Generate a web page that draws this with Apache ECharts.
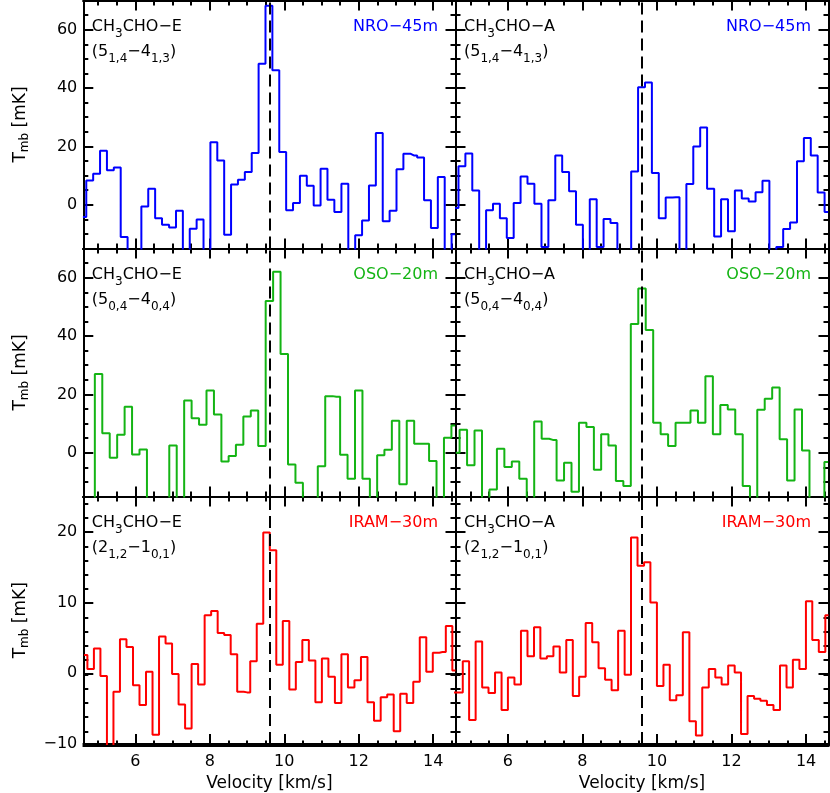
<!DOCTYPE html>
<html><head><meta charset="utf-8">
<script src="https://cdn.jsdelivr.net/npm/echarts@6/dist/echarts.min.js"></script>
<style>html,body{margin:0;padding:0;background:#fff}#c{width:830px;height:793px}</style>
</head><body><div id="c"></div>
<script>
// ---------------- data (channel centre velocities in km/s, Tmb in mK) ----------------
const velNRO = [4.59, 4.77, 4.96, 5.14, 5.33, 5.51, 5.70, 5.88, 6.07, 6.25, 6.44, 6.62, 6.81, 7.00, 7.18, 7.37, 7.55, 7.74, 7.92, 8.11, 8.29, 8.48, 8.66, 8.85, 9.03, 9.22, 9.40, 9.59, 9.77, 9.96, 10.14, 10.33, 10.51, 10.70, 10.88, 11.07, 11.25, 11.44, 11.63, 11.81, 12.00, 12.18, 12.37, 12.55, 12.74, 12.92, 13.11, 13.29, 13.48, 13.66, 13.85, 14.03, 14.22, 14.40, 14.59];
const nroE = [-4.2, 8.3, 10.6, 18.5, 11.8, 12.8, -11.1, -20, -20, -0.6, 5.5, -4.6, -6.9, -7.8, -2.1, -20, -8.2, -5.1, -20, 21.4, 15.2, -10.3, 6.9, 8.6, 11.2, 17.7, 48.3, 68.2, 46.1, 18.1, -1.9, 0.6, 9.9, 6.5, -0.3, 12.3, 1.7, -2.5, 7.2, -20, -10.5, -5.4, 6.6, 24.6, -5.7, -2.1, 12.2, 17.5, 16.9, 16.2, 1.5, -8.0, 9.5, -20, -10.1];
const nroA = [-1.1, 13.2, 17.6, 4.9, -20, -1.9, 0.3, -4.6, -11.4, 0.6, 9.7, 7.2, 0.3, -14.5, 1.5, 16.9, 11.2, 4.6, -6.9, -20, 1.9, -14.5, -4.9, -6.3, -20, -20, 11.4, 40.3, 41.9, 10.9, -4.6, 2.5, 2.6, -20, 7.1, 20.0, 26.5, 5.5, -10.9, 1.9, -9.1, 4.9, 2.1, 1.1, 4.3, 8.2, -20, -14.5, -8.3, -6.1, 14.9, 22.9, 16.9, 4.2, -2.5];

const velOSO = [4.61, 4.81, 5.01, 5.21, 5.41, 5.61, 5.81, 6.01, 6.21, 6.41, 6.61, 6.81, 7.01, 7.21, 7.41, 7.61, 7.81, 8.01, 8.21, 8.41, 8.60, 8.80, 9.00, 9.20, 9.40, 9.60, 9.80, 10.00, 10.20, 10.40, 10.60, 10.80, 11.00, 11.20, 11.40, 11.60, 11.80, 12.00, 12.20, 12.40, 12.59, 12.79, 12.99, 13.19, 13.39, 13.59, 13.79, 13.99, 14.19, 14.39, 14.59];
const osoE = [-20, -20, 27.0, 6.7, -1.7, 6.2, 15.8, -0.6, 1.1, -20, -20, -20, 2.5, -20, 17.9, 11.8, 9.6, 21.3, 13.1, -3.0, -1.1, 2.7, 12.4, 14.5, 2.3, 52.0, 62.0, 33.8, -4.0, -10.3, -20, -20, -4.6, 19.4, 19.2, -0.7, -8.9, 21.3, -8.9, -20, -0.9, 1.0, 11.0, -10.8, 11.0, 3.1, 3.1, -2.8, -20, 5.1, 9.3];
const osoA = [0.0, 7.9, -4.3, 7.6, -20, -12.6, 1.4, -4.9, -3.0, -8.9, -20, 10.7, 4.8, 4.4, -9.5, -3.4, -13.4, 10.3, 8.8, -5.8, 6.3, 2.5, -9.7, -11.4, 44.1, 56.3, 42.1, 10.3, 6.3, 2.3, 10.3, 10.3, 14.5, 10.3, 26.2, 6.3, 16.4, 14.8, 6.3, -11.4, -20, 14.7, 18.5, 22.4, 4.6, -9.5, 14.8, 0.8, -20, -20, -3.2];

const velIRAME = [4.62, 4.80, 4.97, 5.15, 5.32, 5.50, 5.67, 5.85, 6.02, 6.20, 6.37, 6.55, 6.72, 6.90, 7.07, 7.25, 7.42, 7.60, 7.77, 7.95, 8.12, 8.30, 8.47, 8.65, 8.82, 9.00, 9.17, 9.35, 9.52, 9.70, 9.87, 10.05, 10.22, 10.40, 10.57, 10.75, 10.92, 11.10, 11.27, 11.45, 11.62, 11.80, 11.97, 12.15, 12.32, 12.50, 12.68, 12.85, 13.03, 13.20, 13.38, 13.55, 13.73, 13.90, 14.08, 14.25, 14.43, 14.60];
const iramE = [2.6, 0.6, 3.5, -0.4, -11, -2.6, 4.8, 3.7, -1.7, -4.5, 0.2, -8.7, 5.2, 4.2, -0.1, -4.4, -7.8, 1.3, -1.6, 8.2, 8.8, 5.7, 5.4, 2.7, -2.6, -2.7, 1.7, 7.0, 19.9, 17.4, 1.2, 7.4, -2.3, 1.6, 4.7, 1.8, -4.1, 2.1, -0.5, -4.2, 2.7, -2.0, -1.0, 2.3, -4.1, -6.7, -3.4, -3.0, -8.2, -2.9, -4.2, -1.2, 5.1, 0.2, 2.9, 3.0, 6.7, 0.4];
const velIRAMA = [4.53, 4.71, 4.88, 5.05, 5.23, 5.40, 5.57, 5.75, 5.92, 6.09, 6.27, 6.44, 6.62, 6.79, 6.96, 7.14, 7.31, 7.48, 7.66, 7.83, 8.00, 8.18, 8.35, 8.52, 8.70, 8.87, 9.05, 9.22, 9.39, 9.57, 9.74, 9.91, 10.09, 10.26, 10.43, 10.61, 10.78, 10.96, 11.13, 11.30, 11.48, 11.65, 11.82, 12.00, 12.17, 12.34, 12.52, 12.69, 12.86, 13.04, 13.21, 13.39, 13.56, 13.73, 13.91, 14.08, 14.25, 14.43, 14.60];
const iramA = [-2.7, -2.7, 1.7, -6.6, 4.5, -2.0, -2.8, 0.1, -5.2, -0.6, -1.6, 6.0, 2.4, 6.5, 2.1, 2.4, 3.8, 0.1, 4.7, -3.2, -0.5, 7.1, 4.4, 0.7, -0.9, -2.4, 6.0, -0.2, 19.2, 15.2, 15.7, 10.0, -1.8, 1.2, -3.8, -3.1, 5.8, -6.8, -8.8, -2.0, 0.6, -0.6, -1.6, 1.1, 0.1, -8.6, -3.2, -3.6, -3.9, -4.5, -5.2, 1.1, -2.0, 1.9, 0.6, 10.2, 4.7, 3.0, 8.2];

const xMajorTicks = [6, 8, 10, 12, 14];
const xMinorTicks = [5, 5.5, 6, 6.5, 7, 7.5, 8, 8.5, 9, 9.5, 10, 10.5, 11, 11.5, 12, 12.5, 13, 13.5, 14, 14.5];
const yMajorTicksHigh = [0, 20, 40, 60];
const yMinorTicksHigh = [-10, -5, 0, 5, 10, 15, 20, 25, 30, 35, 40, 45, 50, 55, 60, 65];
const yMajorTicksIRAM = [-10, 0, 10, 20];
const yMinorTicksIRAM = [-8, -6, -4, -2, 0, 2, 4, 6, 8, 10, 12, 14, 16, 18, 20, 22, 24];
const systemicVelocity = 9.6;

const speciesNames = ['CH3CHO−E', 'CH3CHO−A'];
const telescopes = ['NRO−45m', 'OSO−20m', 'IRAM−30m'];
const telColors = ['#0000ff', '#14b414', '#ff0000'];
const transitions = [['5', '1,4', '4', '1,3'], ['5', '0,4', '4', '0,4'], ['2', '1,2', '1', '0,1']];

// ---------------- layout ----------------
const FONT = 'DejaVu Sans';
const colLeft = [83.3, 455.5];
const colWidth = [372.2, 373];
const rowTop = [0.5, 248.5, 496.5];
const rowHeight = [248, 248, 249];

const panels = [
  { vel: velNRO, val: nroE, row: 0, col: 0 },
  { vel: velNRO, val: nroA, row: 0, col: 1 },
  { vel: velOSO, val: osoE, row: 1, col: 0 },
  { vel: velOSO, val: osoA, row: 1, col: 1 },
  { vel: velIRAME, val: iramE, row: 2, col: 0 },
  { vel: velIRAMA, val: iramA, row: 2, col: 1 }
];

const fmt = v => (v < 0 ? '\u2212' + Math.abs(v) : String(v));
const blackLine = { color: '#000', width: 2 };

const grid = [], xAxis = [], yAxis = [], series = [], title = [];

panels.forEach((p, i) => {
  const rect = { left: colLeft[p.col], top: rowTop[p.row], width: colWidth[p.col], height: rowHeight[p.row], containLabel: false };
  grid.push(Object.assign({}, rect), Object.assign({}, rect));
  const isIRAM = p.row === 2;
  const ymin = isIRAM ? -10 : -15, ymax = isIRAM ? 25 : 70;
  const yMaj = isIRAM ? yMajorTicksIRAM : yMajorTicksHigh;
  const yMin = isIRAM ? yMinorTicksIRAM : yMinorTicksHigh;
  const bottomRow = p.row === 2, leftCol = p.col === 0;

  const xBase = (g, pos, ticks, len, labels) => ({
    type: 'value', gridIndex: g, position: pos, min: 4.6, max: 14.6,
    axisLine: { show: true, onZero: false, lineStyle: blackLine },
    axisTick: { show: true, inside: true, length: len, customValues: ticks, lineStyle: blackLine },
    axisLabel: { show: labels, customValues: ticks, margin: 10, fontSize: 16, fontFamily: FONT, color: '#000', formatter: fmt },
    splitLine: { show: false }
  });
  const yBase = (g, pos, ticks, len, labels) => ({
    type: 'value', gridIndex: g, position: pos, min: ymin, max: ymax,
    axisLine: { show: true, onZero: false, lineStyle: blackLine },
    axisTick: { show: true, inside: true, length: len, customValues: ticks, lineStyle: blackLine },
    axisLabel: { show: labels, customValues: ticks, margin: 6, fontSize: 16, fontFamily: FONT, color: '#000', formatter: fmt },
    splitLine: { show: false }
  });

  const xb = xBase(2 * i, 'bottom', xMajorTicks, 10, bottomRow);
  if (bottomRow) {
    xb.name = 'Velocity [km/s]';
    xb.nameLocation = 'middle';
    xb.nameGap = 31;
    xb.nameTextStyle = { fontSize: 17, fontFamily: FONT, color: '#000' };
  }
  xAxis.push(xb,
    xBase(2 * i, 'top', xMajorTicks, 10, false),
    xBase(2 * i + 1, 'bottom', xMinorTicks, 5, false),
    xBase(2 * i + 1, 'top', xMinorTicks, 5, false));

  const yl = yBase(2 * i, 'left', yMaj, 10, leftCol);
  if (leftCol) {
    yl.name = '{t|T}{s|mb}{t| [mK]}';
    yl.nameLocation = 'middle';
    yl.nameGap = 52;
    yl.nameTextStyle = { rich: {
      t: { fontSize: 17, fontFamily: FONT, color: '#000', lineHeight: 22 },
      s: { fontSize: 12, fontFamily: FONT, color: '#000', lineHeight: 12, verticalAlign: 'bottom' }
    } };
  }
  yAxis.push(yl,
    yBase(2 * i, 'right', yMaj, 10, false),
    yBase(2 * i + 1, 'left', yMin, 5, false),
    yBase(2 * i + 1, 'right', yMin, 5, false));

  series.push({
    type: 'line', xAxisIndex: 4 * i, yAxisIndex: 4 * i,
    data: p.vel.map((v, k) => [v, p.val[k]]),
    step: 'middle', symbol: 'none', silent: true, clip: true,
    lineStyle: { color: telColors[p.row], width: 2 },
    markLine: {
      silent: true, symbol: ['none', 'none'], label: { show: false },
      lineStyle: { color: '#000', width: 2, type: [12, 6] },
      data: [{ xAxis: systemicVelocity }]
    }
  });

  const tr = transitions[p.row];
  const sp = speciesNames[p.col];
  const rich = {
    a: { fontSize: 16, fontFamily: FONT, color: '#000', fontWeight: 'normal', lineHeight: 25 },
    s: { fontSize: 12, fontFamily: FONT, color: '#000', fontWeight: 'normal', lineHeight: 13, verticalAlign: 'bottom' }
  };
  title.push({
    text: '{a|CH}{s|3}{a|' + sp.slice(3) + '}\n{a|(' + tr[0] + '}{s|' + tr[1] + '}{a|\u2212' + tr[2] + '}{s|' + tr[3] + '}{a|)}',
    left: colLeft[p.col] + 8.5, top: rowTop[p.row] + 14, padding: 0,
    textStyle: { fontWeight: 'normal', fontSize: 16, fontFamily: FONT, color: '#000', rich: rich }
  });
  title.push({
    text: telescopes[p.row],
    right: 830 - (colLeft[p.col] + colWidth[p.col] - 17.5), top: rowTop[p.row] + 14, padding: 0,
    textStyle: { fontSize: 16, fontFamily: FONT, color: telColors[p.row], fontWeight: 'normal', lineHeight: 25 }
  });
});

const chart = echarts.init(document.getElementById('c'), null, { renderer: 'canvas' });
chart.setOption({ animation: false, backgroundColor: '#fff', title, grid, xAxis, yAxis, series });
</script>
</body></html>
